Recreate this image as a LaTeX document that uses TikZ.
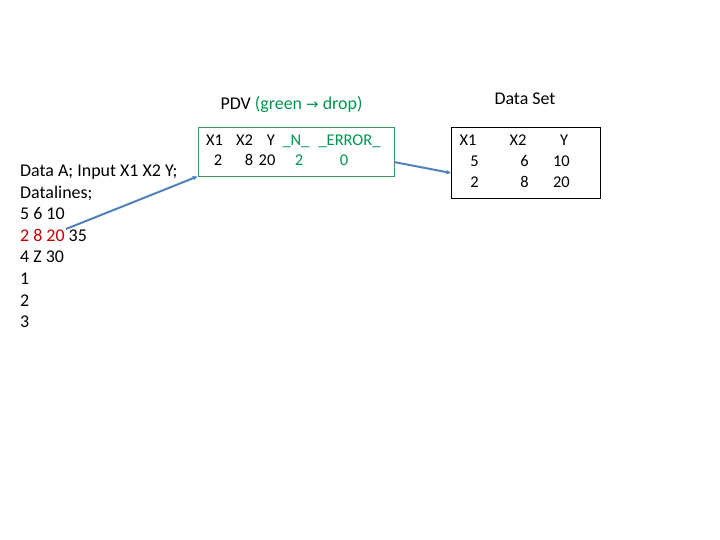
\documentclass[tikz,border=0pt]{standalone}
\usepackage{fontspec}
\setmainfont{Carlito}
\newfontfamily\symfont{DejaVu Sans}
\usetikzlibrary{arrows.meta}

\definecolor{pdvgreen}{RGB}{0,150,80}
\definecolor{boxgreen}{RGB}{60,150,100}
\definecolor{linered}{RGB}{192,0,0}
\definecolor{linkblue}{RGB}{79,129,189}

\begin{document}
\begin{tikzpicture}[x=1bp, y=-1bp,
    codeline/.style={anchor=base west, inner sep=0pt, font=\fontsize{18}{20}\selectfont},
    titletext/.style={anchor=base, inner sep=0pt, font=\fontsize{18}{20}\selectfont},
    celltext/.style={anchor=base, inner sep=0pt, font=\fontsize{16.5}{18}\selectfont},
    numtext/.style={anchor=base east, inner sep=0pt, font=\fontsize{16.5}{18}\selectfont},
    pdvbox/.style={draw=boxgreen, line width=0.9bp, minimum width=196bp, minimum height=49bp, inner sep=0pt},
    setbox/.style={draw, line width=0.9bp, minimum width=149bp, minimum height=71bp, inner sep=0pt},
    link/.style={draw=linkblue, line width=2bp, -{Stealth[length=5bp,width=4.5bp]}},
]
    \useasboundingbox (0,0) rectangle (720,540);

    % raw data lines
    \foreach \t [count=\i] in {{Data A; Input X1 X2 Y;}, {Datalines;}, {5 6 10},
        {\textcolor{linered}{2 8 20} 35}, {4 Z 30}, {1}, {2}, {3}} {
        \node[codeline] (line\i) at (20, {177 + (\i-1)*21.5}) {\t};
    }

    % program data vector
    \node[titletext] (pdvtitle) at (291.5, 110) {PDV \textcolor{pdvgreen}{(green {\symfont\fontsize{15}{18}\selectfont →} drop)}};
    \node[pdvbox] (pdv) at (296, 151.5) {};
    \node[celltext] (px1) at (214.5, 146) {X1};
    \node[celltext] (px2) at (244.5, 146) {X2};
    \node[celltext] (py) at (271, 146) {Y};
    \node[celltext, text=pdvgreen] (pn) at (296, 146) {\_N\_};
    \node[celltext, text=pdvgreen] (perr) at (349.5, 146) {\_ERROR\_};
    \node[celltext] (vx1) at (218, 166) {2};
    \node[celltext] (vx2) at (249, 166) {8};
    \node[celltext] (vy) at (267, 166) {20};
    \node[celltext, text=pdvgreen] (vn) at (299, 166) {2};
    \node[celltext, text=pdvgreen] (verr) at (344, 166) {0};

    % output data set
    \node[titletext] (settitle) at (525, 105) {Data Set};
    \node[setbox] (dset) at (525.5, 162.5) {};
    \node[celltext] (sx1) at (468, 146) {X1};
    \node[celltext] (sx2) at (518, 146) {X2};
    \node[celltext] (sy) at (564, 146) {Y};
    \foreach \a/\b/\c [count=\r] in {5/6/10, 2/8/20} {
        \node[numtext] (a\r) at (479, {146 + \r*21}) {\a};
        \node[numtext] (b\r) at (529, {146 + \r*21}) {\b};
        \node[numtext] (c\r) at (570, {146 + \r*21}) {\c};
    }

    \coordinate (src) at (66, 229);
    \coordinate (pdvout) at (394, 162);
    \coordinate (setin) at (451, 173);

    \draw[link] (src) -- (pdv.south west);
    \draw[link] (pdvout) -- (setin);

\end{tikzpicture}
\end{document}
